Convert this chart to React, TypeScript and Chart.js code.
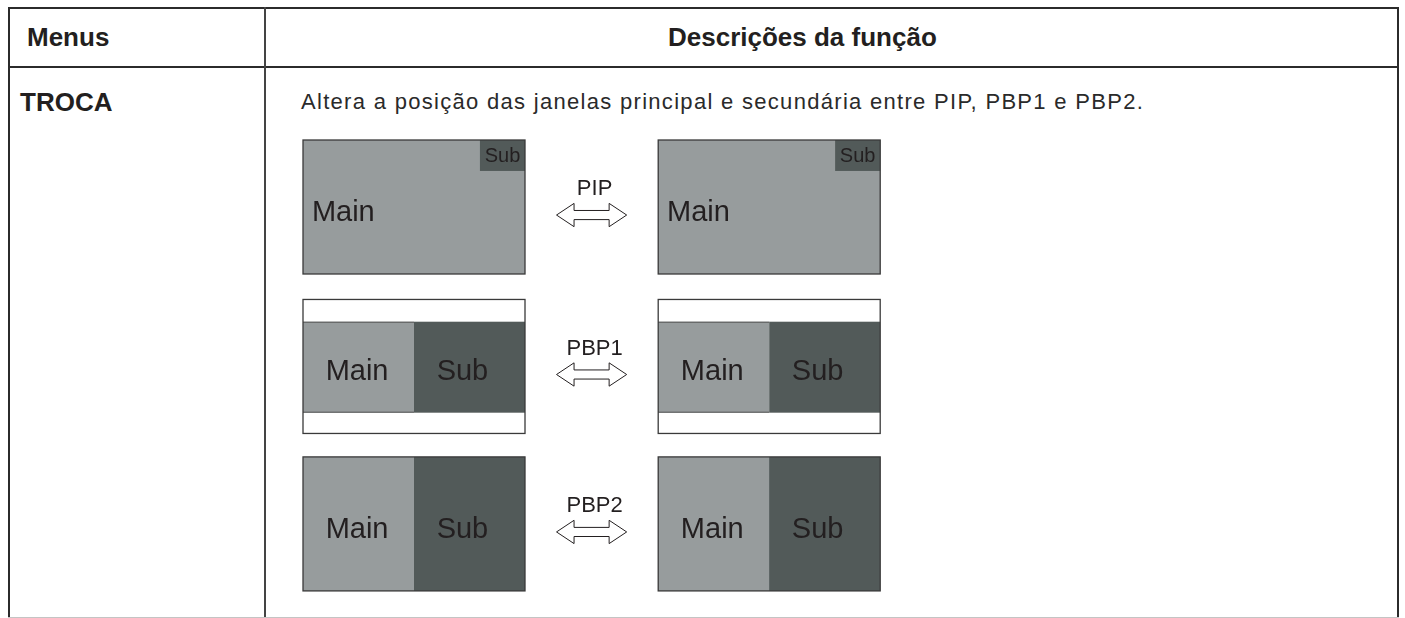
import React, { useEffect, useRef } from "react";
import { Chart, registerables } from "chart.js";

Chart.register(...registerables);

// ---- data ----
const headerLabels = ["Menus", "Descrições da função"];
const menuLabel = "TROCA";
const description = "Altera a posição das janelas principal e secundária entre PIP, PBP1 e PBP2.";
const modes = ["PIP", "PBP1", "PBP2"];
const rowTops = [0, 1.19, 2.365]; // in screen heights
const screenLefts = [0, 1.6]; // in screen widths
const mainRects = [
  [0, 1, 0, 1],
  [0, 0.5, 0.166, 0.845],
  [0, 0.5, 0, 1],
];
const subRects = [
  [0.797, 1, 0, 0.231],
  [0.5, 1, 0.166, 0.845],
  [0.5, 1, 0, 1],
];
const frameFills = ["#979c9d", "#ffffff", "#979c9d"];
const mainLabelX = [0.04, 0.102, 0.102];
const subLabelX = [0.5, 0.102, 0.102]; // PIP: centre of sub rect; PBP: offset from sub left
const labelBaseline = 0.603;
const subSmallBaseline = 0.166;
const arrowX = 1.3;
const arrowY = 0.56;

const MAIN_COLOR = "#979c9d";
const SUB_COLOR = "#525a59";
const TEXT_COLOR = "#231f20";
const FONT = '"Liberation Sans", Arial, Helvetica, sans-serif';

const screensPlugin = {
  id: "screens",
  afterDatasetsDraw(chart: any) {
    const { ctx, scales } = chart;
    const xs = scales.x;
    const ys = scales.y;
    const px = (v: number) => xs.getPixelForValue(v);
    const py = (v: number) => ys.getPixelForValue(v);
    ctx.save();
    modes.forEach((mode, r) => {
      const top = rowTops[r];
      screenLefts.forEach((left) => {
        const X = (f: number) => px(left + f);
        const Y = (f: number) => py(top + f);
        // frame
        ctx.fillStyle = frameFills[r];
        ctx.fillRect(X(0), Y(0), X(1) - X(0), Y(1) - Y(0));
        const m = mainRects[r];
        ctx.fillStyle = MAIN_COLOR;
        ctx.fillRect(X(m[0]), Y(m[2]), X(m[1]) - X(m[0]), Y(m[3]) - Y(m[2]));
        const s = subRects[r];
        ctx.fillStyle = SUB_COLOR;
        ctx.fillRect(X(s[0]), Y(s[2]), X(s[1]) - X(s[0]), Y(s[3]) - Y(s[2]));
        if (r === 1) {
          ctx.strokeStyle = "#555";
          ctx.lineWidth = 1;
          ctx.beginPath();
          ctx.moveTo(X(m[0]), Y(m[2]) + 0.5);
          ctx.lineTo(X(m[1]), Y(m[2]) + 0.5);
          ctx.moveTo(X(m[0]), Y(m[3]) - 0.5);
          ctx.lineTo(X(m[1]), Y(m[3]) - 0.5);
          ctx.stroke();
        }
        // outline
        ctx.strokeStyle = "#3a3a3a";
        ctx.lineWidth = 1.3;
        ctx.strokeRect(X(0), Y(0), X(1) - X(0), Y(1) - Y(0));
        // labels
        ctx.fillStyle = TEXT_COLOR;
        ctx.textBaseline = "alphabetic";
        ctx.font = `29px ${FONT}`;
        ctx.textAlign = "left";
        ctx.fillText("Main", X(m[0] + mainLabelX[r]), Y(labelBaseline));
        if (r === 0) {
          ctx.font = `20px ${FONT}`;
          ctx.textAlign = "center";
          ctx.fillText("Sub", X(s[0] + (s[1] - s[0]) * subLabelX[r]), Y(subSmallBaseline));
        } else {
          ctx.fillText("Sub", X(s[0] + subLabelX[r]), Y(labelBaseline));
        }
      });
      // arrow
      const cx = px(arrowX);
      const cy = py(top + arrowY);
      const hw = px(arrowX + 0.158) - cx;
      const hl = px(arrowX + 0.079) - cx;
      const hh = py(top + arrowY + 0.087) - cy;
      const sh = py(top + arrowY + 0.034) - cy;
      ctx.beginPath();
      ctx.moveTo(cx - hw, cy);
      ctx.lineTo(cx - hw + hl, cy - hh);
      ctx.lineTo(cx - hw + hl, cy - sh);
      ctx.lineTo(cx + hw - hl, cy - sh);
      ctx.lineTo(cx + hw - hl, cy - hh);
      ctx.lineTo(cx + hw, cy);
      ctx.lineTo(cx + hw - hl, cy + hh);
      ctx.lineTo(cx + hw - hl, cy + sh);
      ctx.lineTo(cx - hw + hl, cy + sh);
      ctx.lineTo(cx - hw + hl, cy + hh);
      ctx.closePath();
      ctx.fillStyle = "#ffffff";
      ctx.fill();
      ctx.strokeStyle = TEXT_COLOR;
      ctx.lineWidth = 1;
      ctx.stroke();
      ctx.fillStyle = TEXT_COLOR;
      ctx.font = `22px ${FONT}`;
      ctx.textAlign = "center";
      ctx.fillText(mode, cx + 3, cy - 20);
    });
    ctx.restore();
  },
};

function Diagram() {
  const ref = useRef<HTMLCanvasElement | null>(null);
  useEffect(() => {
    if (!ref.current) return;
    const chart = new Chart(ref.current, {
      type: "scatter",
      data: { datasets: [{ data: [], pointRadius: 0 }] },
      options: {
        animation: false,
        responsive: false,
        maintainAspectRatio: false,
        layout: { padding: 0 },
        events: [],
        plugins: { legend: { display: false }, tooltip: { enabled: false } },
        scales: {
          x: { type: "linear", min: -23 / 222, max: -23 / 222 + 620 / 222, display: false },
          y: { type: "linear", min: -20 / 134, max: -20 / 134 + 490 / 134, reverse: true, display: false },
        },
      },
      plugins: [screensPlugin],
    });
    return () => chart.destroy();
  }, []);
  return (
    <canvas
      ref={ref}
      width={620}
      height={490}
      style={{ position: "absolute", left: 280, top: 120, width: 620, height: 490 }}
    />
  );
}

const line = (left: number, top: number, width: number, height: number, color = "#2b2b2b") => (
  <div style={{ position: "absolute", left, top, width, height, background: color }} />
);

export default function App() {
  return (
    <div
      style={{
        position: "absolute",
        left: 0,
        top: 0,
        width: 1405,
        height: 618,
        background: "#ffffff",
        overflow: "hidden",
        fontFamily: FONT,
        color: TEXT_COLOR,
      }}
    >
      {line(8, 7, 1391, 2)}
      {line(8, 7, 2, 611)}
      {line(1397, 7, 2, 611)}
      {line(8, 66, 1391, 2)}
      {line(264, 7, 2, 611, "#444")}
      {line(8, 617, 1391, 1, "#c4c4c4")}
      <div style={{ position: "absolute", left: 27, top: 24, fontSize: 26, lineHeight: "26px", fontWeight: 700, whiteSpace: "nowrap" }}>
        {headerLabels[0]}
      </div>
      <div style={{ position: "absolute", left: 668, top: 24, fontSize: 26, lineHeight: "26px", fontWeight: 700, whiteSpace: "nowrap" }}>
        {headerLabels[1]}
      </div>
      <div style={{ position: "absolute", left: 20, top: 89, fontSize: 26, lineHeight: "26px", fontWeight: 700, whiteSpace: "nowrap" }}>
        {menuLabel}
      </div>
      <div
        style={{
          position: "absolute",
          left: 301,
          top: 91,
          fontSize: 22,
          lineHeight: "22px",
          letterSpacing: "1.3px",
          color: "#2a2a2a",
          whiteSpace: "nowrap",
        }}
      >
        {description}
      </div>
      <Diagram />
    </div>
  );
}
